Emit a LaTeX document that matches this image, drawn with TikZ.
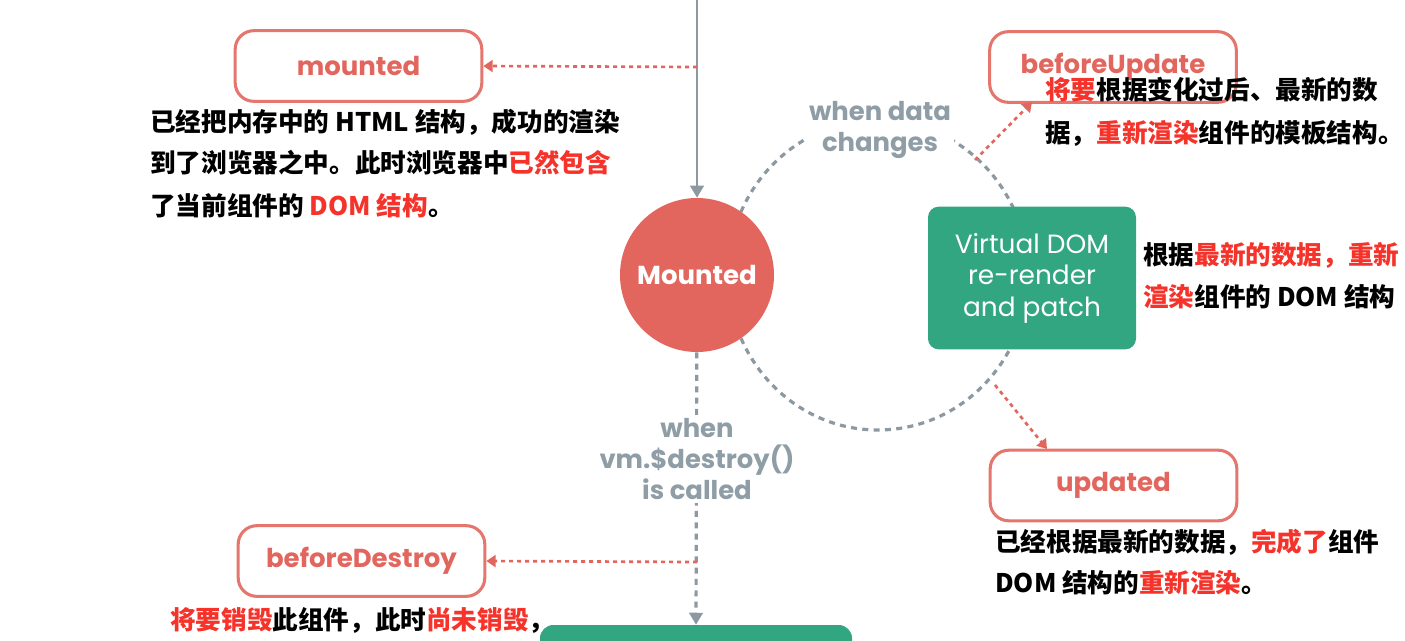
\documentclass[tikz,border=0pt]{standalone}
\usepackage{fontspec}
\setmainfont{Poppins}
\newfontfamily\cjk{Noto Sans CJK SC}
\usetikzlibrary{arrows.meta}

\definecolor{coral}{HTML}{E2665E}
\definecolor{boxline}{HTML}{E4766E}
\definecolor{vuegreen}{HTML}{31A680}
\definecolor{hotred}{HTML}{F5332A}
\definecolor{slate}{HTML}{8E9DA6}
\definecolor{lineg}{HTML}{8C99A1}
\newcommand{\hl}[1]{\textcolor{hotred}{#1}}

\begin{document}
\begin{tikzpicture}[x=0.75pt,y=-0.75pt,
  hook/.style={draw=boxline, line width=2.3pt, rounded corners=14pt, fill=white,
    minimum width=185pt, minimum height=53pt, text=coral,
    font=\bfseries\fontsize{19.5}{22}\selectfont},
  note/.style={anchor=west, inner sep=0pt, font=\cjk\bfseries\fontsize{19.2}{22}\selectfont},
  cond/.style={fill=white, align=center, text=slate, inner sep=2pt,
    font=\bfseries\fontsize{19.4}{23.4}\selectfont},
  redarrow/.style={draw=coral, line width=2pt, dash pattern=on 3pt off 3pt,
    -{Triangle[width=9pt,length=7pt]}},
  greyflow/.style={draw=lineg, line width=2.2pt, -{Triangle[width=10pt,length=9pt]}},
  greydash/.style={draw=lineg, line width=2.4pt, dash pattern=on 4.5pt off 4pt},
]
\useasboundingbox (0,0) rectangle (1405,640);
\clip (0,0) rectangle (1405,640);

% update loop around the mounted state
\draw[greydash] (878,275) ellipse [x radius=150, y radius=155];

% lifecycle states
\node[circle, fill=coral, minimum size=115.5pt, text=white,
  font=\bfseries\fontsize{19.5}{22}\selectfont] (mnt) at (697,275) {Mounted};
\node[fill=vuegreen, rounded corners=8pt, minimum width=156pt, minimum height=107pt,
  text=white, align=center, font=\fontsize{19.8}{23.6}\selectfont]
  (vdom) at (1032,278) {Virtual DOM\\re-render\\and patch};
\node[fill=vuegreen, rounded corners=10pt, minimum width=234pt, minimum height=60pt]
  (destroyed) at (696,665) {};

% hooks
\node[hook] (mhook) at (358.5,66) {mounted};
\node[hook] (buhook) at (1113,67) {beforeUpdate};
\node[hook] (uhook) at (1113.5,485.5) {updated};
\node[hook] (bdhook) at (361.5,561) {beforeDestroy};

% connectors
\coordinate (topin) at (697,-10);
\coordinate (mtap) at (697,67);
\coordinate (butap) at (975,160);
\coordinate (utap) at (995,385);
\coordinate (bdtap) at (697,562);
\draw[greyflow] (topin) -- (mnt);
\draw[greydash, -{Triangle[width=10pt,length=9pt]}] (mnt) -- (destroyed.north);
\draw[redarrow] (mtap) -- (mhook.east);
\draw[redarrow] (butap) -- (1032,102);
\draw[redarrow] (utap) -- (1047,449);
\draw[redarrow] (bdtap) -- (bdhook.east);

% transition conditions
\node[cond] (datachg) at (880,130) {when data\\changes};
\node[cond] (destroycall) at (697,459) {when\\vm.\$destroy()\\is called};

% descriptions
\node[note] (m1) at (150,122) {已经把内存中的 HTML 结构，成功的渲染};
\node[note] (m2) at (150,163) {到了浏览器之中。此时浏览器中\hl{已然包含}};
\node[note] (m3) at (150,206) {了当前组件的 \hl{DOM 结构}。};

\node[note] (bu1) at (1045,90) {\hl{将要}根据变化过后、最新的数};
\node[note] (bu2) at (1045,133) {据，\hl{重新渲染}组件的模板结构。};

\node[note] (v1) at (1143,255) {根据\hl{最新的数据，重新}};
\node[note] (v2) at (1143,297) {\hl{渲染}组件的 DOM 结构};

\node[note] (u1) at (995,542) {已经根据最新的数据，\hl{完成了}组件};
\node[note] (u2) at (995,583) {DOM 结构的\hl{重新渲染}。};

\node[note] (bd1) at (170,620) {\hl{将要销毁}此组件，此时\hl{尚未销毁}，};
\end{tikzpicture}
\end{document}
